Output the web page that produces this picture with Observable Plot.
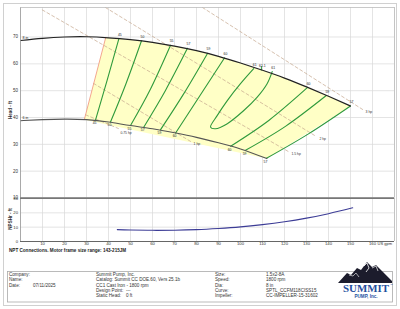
<!DOCTYPE html>
<html><head><meta charset="utf-8">
<script src="https://cdn.jsdelivr.net/npm/d3@7"></script>
<script src="https://cdn.jsdelivr.net/npm/@observablehq/plot@0.6"></script>
<style>
body{margin:0;background:#fff;}
#wrap{position:relative;width:400px;height:309px;overflow:hidden;font-family:"Liberation Sans",Arial,sans-serif;}
#head,#npsh,#over{position:absolute;left:0;}
#head{top:0}
#npsh{top:197px}
#over{top:0;pointer-events:none}
</style></head><body>
<div id="wrap"><div id="head"></div><div id="npsh"></div><svg id="over" width="400" height="309"></svg></div>
<script>
// ---- data (US gpm / ft) ----
const maxGpm  = [0,10,20,30,40,50,60,70,80,90,100,110,120,130,140,150];
const maxHead = [68.7,69.5,70.0,70.1,69.7,69.0,68.0,66.6,64.9,62.8,60.3,57.6,54.7,51.4,47.9,44.3];
const minGpm  = [0,10,20,30,40,50,60,70,80,90,100,112];
const minHead = [38.8,39.2,39.4,39.2,38.3,37.0,35.8,34.3,32.6,30.6,28.3,24.7];
const regionGpm  = [29,38.7,40,50,60,70,80,90,100,110,120,130,140,150,112];
const regionHead = [39.2,69.7,69.7,69.0,68.0,66.6,64.9,62.8,60.3,57.6,54.7,51.4,47.9,44.3,24.7];
const minFlowGpm = [29,38.7];
const minFlowHead = [39.2,69.7];
const effNames = ["45","50","55","57","59","60","60","59","57"];
const effGpm  = [[34.1,39.4,44.7],[40.9,47.9,55],[50,59.1,68.2],[56,65.9,75.9],[63.6,74.3,85],[70.5,81.6,92.7],[95.5,113,130.5],[102.3,120.6,139],[111.8,130.9,150]];
const effHead = [[39.1,53.9,69.3],[38.3,52.5,68.6],[37.0,50.6,66.9],[36.4,50.1,65.8],[35.4,49.0,63.9],[34.2,48.2,62.2],[29.3,39.0,51.2],[27.8,36.8,48.2],[24.8,33.9,44.3]];
const bepGpm  = [106.0,100,94,89.4,86.4,88.6,94,101.5,107.6,112.1,114.4];
const bepHead = [58.2,52.6,46.3,40.7,36.4,35.8,37.7,42.6,47.6,52.6,57.1];
const bepTickGpm = [109.5,109.5];
const bepTickHead = [57.7,59.0];
const topLabels = ["45","50","55","57","59","60","61","61.1","61","60","59","57"];
const topLabelGpm = [44.7,55,68.2,75.9,85,92.7,106,109.5,114.4,130.5,139,150];
const topLabelHead = [69.3,68.6,66.9,65.8,63.9,62.2,58.2,57.7,57.1,51.2,48.2,44.3];
const hpNames = ["3 hp","2 hp","1.5 hp","1 hp","0.75 hp"];
const hpStartGpm  = [82.7,38.6,9.9,33.2,29.6];
const hpStartHead = [81,81,80.1,52.7,41.0];
const hpEndGpm  = [155.5,134.5,121.8,77.3,44.5];
const hpEndHead = [43,32.9,27.3,31.1,35.9];
const diaLabels = ["8 in","6 in"];
const diaLabelHead = [68.7,38.8];
const npshGpm = [44,50,60,70,80,90,100,110,120,130,140,151];
const npshFt  = [8.3,8.0,7.8,7.9,8.3,9.1,10.2,11.8,13.8,16.3,19.4,23.5];
const xTicks = [10,20,30,40,50,60,70,80,90,100,110,120,130,140,150,160];
const headTicks = [10,20,30,40,50,60,70];
const npshTicks = [0,10,20,30];

// ---- tables ----
const maxCurve = maxGpm.map((q,i)=>({q,h:maxHead[i]}));
const minCurve = minGpm.map((q,i)=>({q,h:minHead[i]}));
const region = regionGpm.map((q,i)=>({q,h:regionHead[i]}));
const minFlow = minFlowGpm.map((q,i)=>({q,h:minFlowHead[i]}));
const effLines = effNames.flatMap((n,k)=>effGpm[k].map((q,i)=>({k,q,h:effHead[k][i]})));
const effBottom = effNames.map((n,k)=>({n,q:effGpm[k][0],h:effHead[k][0]}));
const bep = bepGpm.map((q,i)=>({q,h:bepHead[i]}));
const bepTick = bepTickGpm.map((q,i)=>({q,h:bepTickHead[i]}));
const topLab = topLabels.map((n,i)=>({n,q:topLabelGpm[i],h:topLabelHead[i]}));
const hpLines = hpNames.flatMap((n,k)=>[{k,q:hpStartGpm[k],h:hpStartHead[k]},{k,q:hpEndGpm[k],h:hpEndHead[k]}]);
const hpLab = hpNames.map((n,k)=>({n,q:hpEndGpm[k],h:hpEndHead[k]}));
const hpLabMain = hpLab.slice(0,4);
const hpLabLow = hpLab.slice(4);
const diaLab = diaLabels.map((n,i)=>({n,q:0,h:diaLabelHead[i]}));
const npsh = npshGpm.map((q,i)=>({q,v:npshFt[i]}));

const font = "Liberation Sans, Arial, sans-serif";
const grid = {stroke:"#d9d9d9", strokeOpacity:1, strokeWidth:0.7};

const headPlot = Plot.plot({
  width:400, height:198, marginLeft:20, marginRight:6, marginTop:7, marginBottom:0.5,
  x:{domain:[0,170], axis:null},
  y:{domain:[10,81], axis:null},
  style:{fontFamily:font, fontSize:"4.5px", background:"transparent", overflow:"visible"},
  marks:[
    Plot.gridX(d3.range(0,171,10), grid),
    Plot.gridY(headTicks, grid),
    Plot.line(region, {x:"q", y:"h", fill:"#ffffc6", stroke:"none"}),
    Plot.line(hpLines, {x:"q", y:"h", z:"k", stroke:"#c4a68c", strokeWidth:0.7, strokeDasharray:"3,2.5"}),
    Plot.text(hpLabMain, {x:"q", y:"h", text:"n", textAnchor:"start", dx:3, dy:2.5, fontSize:3.4, fill:"#333"}),
    Plot.text(hpLabLow, {x:"q", y:"h", text:"n", textAnchor:"start", dx:2, dy:4.8, fontSize:3.4, fill:"#333"}),
    Plot.line(minFlow, {x:"q", y:"h", stroke:"#f0907a", strokeWidth:0.8}),
    Plot.line(effLines, {x:"q", y:"h", z:"k", curve:"natural", stroke:"#2f9a3c", strokeWidth:1.1}),
    Plot.line(bep, {x:"q", y:"h", curve:"catmull-rom", stroke:"#2f9a3c", strokeWidth:1.1}),
    Plot.line(bepTick, {x:"q", y:"h", stroke:"#2f9a3c", strokeWidth:1}),
    Plot.line(maxCurve, {x:"q", y:"h", curve:"natural", stroke:"#222", strokeWidth:1.2}),
    Plot.line(minCurve, {x:"q", y:"h", curve:"natural", stroke:"#555", strokeWidth:1.1}),
    Plot.text(topLab, {x:"q", y:"h", text:"n", dy:-4, dx:1, fontSize:3.4, fill:"#222"}),
    Plot.text(effBottom, {x:"q", y:"h", text:"n", dy:3.2, dx:-1, fontSize:3.4, fill:"#222"}),
    Plot.text(diaLab, {x:"q", y:"h", text:"n", textAnchor:"start", dx:2, dy:-3, fontSize:3.6, fill:"#222"}),
    Plot.axisY(headTicks, {tickSize:0, tickPadding:2.5, label:null, fill:"#333"}),
    Plot.ruleX([0], {stroke:"#999", strokeWidth:0.8}),
    Plot.ruleY([81], {stroke:"#bbb", strokeWidth:0.8}),
    Plot.ruleX([170], {stroke:"#bbb", strokeWidth:0.8}),
    Plot.ruleY([10], {stroke:"#777", strokeWidth:1.4})
  ]
});
document.getElementById("head").appendChild(headPlot);

const npshPlot = Plot.plot({
  width:400, height:54, marginLeft:20, marginRight:6, marginTop:1, marginBottom:10,
  x:{domain:[0,170], axis:null},
  y:{domain:[0,30], axis:null},
  style:{fontFamily:font, fontSize:"4.2px", background:"transparent", overflow:"visible"},
  marks:[
    Plot.gridX(d3.range(0,171,10), grid),
    Plot.gridY(npshTicks, grid),
    Plot.line(npsh, {x:"q", y:"v", curve:"natural", stroke:"#3c3c96", strokeWidth:1.1}),
    Plot.axisX(xTicks, {tickSize:0, tickPadding:1, label:null, fill:"#333"}),
    Plot.axisY(npshTicks, {tickSize:0, tickPadding:2.5, label:null, fill:"#333"}),
    Plot.text(["US gpm"], {frameAnchor:"bottom-right", textAnchor:"end", lineAnchor:"top", dy:1, dx:-2.5, fontSize:4, fill:"#333"}),
    Plot.ruleX([0], {stroke:"#999", strokeWidth:0.8}),
    Plot.ruleX([170], {stroke:"#bbb", strokeWidth:0.8}),
    Plot.ruleY([30], {stroke:"#777", strokeWidth:1.2}),
    Plot.ruleY([0], {stroke:"#666", strokeWidth:1})
  ]
});
document.getElementById("npsh").appendChild(npshPlot);

// ---- overlay: titles, info box, logo ----
const ov = d3.select("#over").style("font-family", font);
ov.append("rect").attr("x",3.5).attr("y",3.5).attr("width",393).attr("height",302).attr("fill","none").attr("stroke","#d0d0d0").attr("stroke-width",1);
ov.append("text").attr("transform","translate(11.5,110) rotate(-90)").attr("text-anchor","middle").attr("font-size",4.5).attr("font-weight","bold").attr("fill","#333").text("Head - ft");
ov.append("text").attr("transform","translate(11.5,219) rotate(-90)").attr("text-anchor","middle").attr("font-size",4.5).attr("font-weight","bold").attr("fill","#333").text("NPSHr - ft");
ov.append("text").attr("x",9).attr("y",252).attr("font-size",4.6).attr("font-weight","bold").attr("fill","#222").text("NPT Connections. Motor frame size range: 143-215JM");
ov.append("rect").attr("x",7.5).attr("y",271.5).attr("width",385).attr("height",30.5).attr("fill","none").attr("stroke","#aaa").attr("stroke-width",0.8);
const infoLeft = [["Company:",""],["Name:",""],["Date:","07/11/2025"]];
const infoMid = [["Summit Pump, Inc.",""],["Catalog: Summit CC DOE.60, Vers 25.1b",""],["CC1 Cast Iron - 1800 rpm",""],["Design Point:","---"],["Static Head:","0 ft"]];
const infoRight = [["Size:","1.5x2-8A"],["Speed:","1800 rpm"],["Dia:","8 in"],["Curve:","SPTL_CCFM118CISS15"],["Impeller:","CC-IMPELLER-15-31602"]];
function col(rows,x1,x2){rows.forEach((r,i)=>{const y=276+i*5.3;
  ov.append("text").attr("x",x1).attr("y",y).attr("font-size",4.6).attr("fill","#333").text(r[0]);
  if(r[1]) ov.append("text").attr("x",x2).attr("y",y).attr("font-size",4.6).attr("fill","#333").text(r[1]);});}
col(infoLeft,9,33); col(infoMid,96,126); col(infoRight,215,266);
// logo
const lg = ov.append("g");
lg.append("polygon").attr("points","338,283 347,273 351,275 357,268 361,270 367,262 372,267 376,265 383,272 392,281 392,283").attr("fill","#1c1c2c");
lg.append("polyline").attr("points","364,266 367,263 369,268 366,272").attr("fill","none").attr("stroke","#fff").attr("stroke-width",0.8);
lg.append("polyline").attr("points","372,268 376,266 378,271").attr("fill","none").attr("stroke","#fff").attr("stroke-width",0.7);
lg.append("polyline").attr("points","349,275 353,276 356,273 359,277").attr("fill","none").attr("stroke","#fff").attr("stroke-width",0.6);
lg.append("text").attr("x",366).attr("y",291.8).attr("text-anchor","middle").attr("font-size",11).attr("font-weight","bold").attr("font-family","Liberation Serif, DejaVu Serif, serif").attr("fill","#1f4f9e").attr("textLength",46).attr("lengthAdjust","spacingAndGlyphs").text("SUMMIT");
lg.append("text").attr("x",390).attr("y",286).attr("font-size",3).attr("fill","#1f4f9e").text("™");
lg.append("text").attr("x",366).attr("y",297.5).attr("text-anchor","middle").attr("font-size",4.6).attr("font-weight","bold").attr("fill","#1f4f9e").text("PUMP, Inc.");
</script>
</body></html>
